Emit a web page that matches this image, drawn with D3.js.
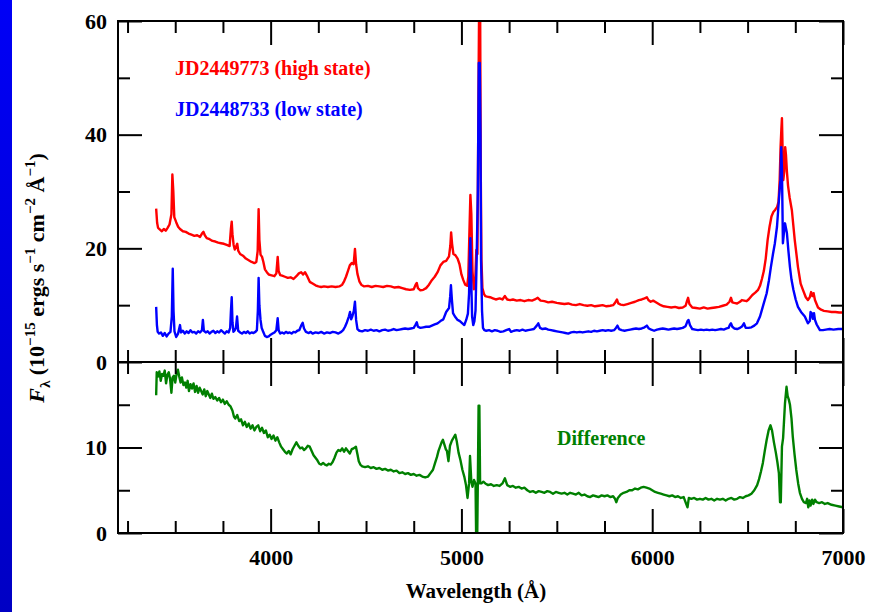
<!DOCTYPE html>
<html>
<head>
<meta charset="utf-8">
<script src="https://d3js.org/d3.v7.min.js"></script>
<style>
  body { margin: 0; background: #fff; }
  svg { display: block; }
</style>
</head>
<body>
<div id="chart"></div>
<script>
// Spectra: [wavelength (A), flux (1e-15 ergs/s/cm2/A)]
var highState = [
  [3400,27.0],[3405,24.5],[3410,23.6],[3420,23.3],[3430,23.0],[3440,23.4],[3450,23.1],[3460,23.6],
  [3470,24.2],[3480,26.0],[3485,33.0],[3490,30.0],[3495,25.5],[3505,24.6],[3515,23.8],[3525,23.4],
  [3540,23.0],[3555,22.9],[3570,22.6],[3585,22.4],[3600,22.2],[3615,22.3],[3630,22.0],[3640,22.6],
  [3648,22.9],[3655,22.3],[3665,21.8],[3680,21.6],[3695,21.3],[3710,21.2],[3725,21.0],[3740,20.9],
  [3755,20.8],[3770,20.6],[3785,20.4],[3792,23.5],[3796,24.7],[3800,22.5],[3806,20.6],[3812,19.8],
  [3820,20.4],[3825,20.8],[3830,19.6],[3840,19.0],[3855,18.7],[3870,18.2],[3885,17.9],[3900,17.6],
  [3915,17.4],[3925,17.6],[3932,19.5],[3937,26.9],[3941,21.5],[3947,18.9],[3955,18.5],[3962,17.6],
  [3970,16.3],[3980,15.8],[3990,15.4],[4000,15.3],[4010,15.2],[4020,15.1],[4030,15.6],[4037,18.5],
  [4042,16.0],[4050,15.3],[4060,15.2],[4075,15.0],[4090,14.8],[4105,14.9],[4120,14.6],[4135,15.1],
  [4148,15.6],[4160,15.8],[4170,15.4],[4180,15.8],[4190,15.2],[4205,14.1],[4220,13.8],[4235,13.5],
  [4250,13.3],[4265,13.2],[4280,13.3],[4300,13.2],[4320,13.3],[4340,13.2],[4360,13.3],[4375,13.6],
  [4385,14.2],[4395,15.0],[4405,16.0],[4415,17.0],[4425,17.4],[4435,17.2],[4442,19.9],[4448,17.2],
  [4455,15.5],[4465,14.2],[4475,13.6],[4490,13.3],[4510,13.4],[4530,13.2],[4550,13.4],[4570,13.3],
  [4590,13.2],[4610,13.4],[4630,13.3],[4650,13.1],[4670,13.2],[4690,13.0],[4710,12.8],[4730,12.7],
  [4750,12.8],[4760,13.6],[4766,13.9],[4772,13.0],[4785,12.6],[4800,12.7],[4815,13.0],[4830,13.6],
  [4845,14.4],[4860,15.0],[4875,15.8],[4890,17.0],[4905,17.6],[4920,17.8],[4935,18.6],[4942,20.5],
  [4946,22.8],[4951,20.8],[4958,19.0],[4968,18.8],[4980,18.2],[4990,17.2],[5000,15.4],[5010,14.4],
  [5020,13.6],[5030,13.4],[5036,15.0],[5042,23.0],[5047,29.4],[5052,26.0],[5058,16.0],[5065,12.8],
  [5072,14.0],[5078,19.7],[5084,19.0],[5089,45.0],[5093,64.0],[5098,64.0],[5101,35.0],[5105,18.0],
  [5110,13.0],[5118,12.0],[5125,11.6],[5135,11.5],[5150,11.4],[5165,11.2],[5180,11.0],[5200,11.2],
  [5215,11.0],[5228,11.6],[5240,11.0],[5255,10.9],[5270,11.0],[5290,10.8],[5310,10.9],[5330,10.7],
  [5350,10.9],[5370,10.8],[5385,11.0],[5400,11.3],[5415,10.8],[5435,10.7],[5455,10.5],[5475,10.6],
  [5500,10.4],[5520,10.3],[5540,10.2],[5560,10.3],[5580,10.1],[5600,10.0],[5620,10.2],[5640,10.0],
  [5660,9.9],[5680,10.0],[5700,9.8],[5720,9.9],[5740,10.0],[5760,9.8],[5780,9.9],[5795,10.0],
  [5805,10.4],[5815,11.0],[5822,10.3],[5835,10.1],[5850,10.0],[5870,10.2],[5890,10.4],[5910,10.6],
  [5930,10.9],[5945,11.0],[5960,11.2],[5972,11.4],[5980,10.9],[5992,10.6],[6005,10.8],[6015,10.6],
  [6030,10.3],[6045,10.0],[6060,9.8],[6080,9.7],[6100,9.6],[6120,9.7],[6140,9.5],[6160,9.6],
  [6175,9.9],[6183,10.8],[6188,11.3],[6195,10.2],[6210,9.6],[6230,9.5],[6250,9.4],[6270,9.6],
  [6290,9.4],[6310,9.5],[6330,9.6],[6350,9.7],[6370,9.9],[6390,10.1],[6405,10.6],[6413,11.3],
  [6420,10.5],[6430,10.4],[6445,10.3],[6460,10.6],[6470,10.9],[6482,10.8],[6495,10.7],[6505,11.0],
  [6515,11.4],[6525,11.8],[6540,12.2],[6555,12.7],[6565,13.4],[6575,14.6],[6585,16.0],[6595,18.2],
  [6605,21.5],[6615,23.8],[6625,25.6],[6635,26.4],[6645,26.8],[6655,27.3],[6662,28.2],[6668,32.0],
  [6673,38.0],[6677,41.0],[6680,42.9],[6683,38.0],[6687,32.0],[6692,33.5],[6697,37.8],[6701,36.5],
  [6706,33.5],[6712,31.0],[6720,29.0],[6732,26.7],[6747,21.5],[6764,16.7],[6778,13.8],[6790,12.7],
  [6805,11.4],[6816,10.9],[6826,11.4],[6833,12.3],[6840,11.6],[6846,12.1],[6853,10.9],[6869,9.6],
  [6885,9.2],[6900,9.0],[6920,8.9],[6940,8.8],[6960,8.8],[6980,8.7],[7000,8.7]
];

var lowState = [
  [3400,9.7],[3404,6.5],[3408,5.3],[3415,5.0],[3425,5.2],[3435,4.6],[3445,5.1],[3455,4.5],
  [3465,5.0],[3475,5.3],[3482,8.0],[3487,16.4],[3491,9.0],[3496,5.4],[3505,4.4],[3515,5.0],
  [3525,6.5],[3530,5.2],[3540,5.5],[3550,5.0],[3560,5.4],[3570,5.1],[3580,5.6],[3590,5.2],
  [3600,5.3],[3610,5.0],[3620,5.4],[3630,5.2],[3640,5.6],[3645,7.4],[3650,5.5],[3660,5.2],
  [3670,5.4],[3680,5.0],[3690,5.3],[3700,5.5],[3710,5.1],[3720,5.4],[3730,5.2],[3740,5.6],
  [3750,5.3],[3760,5.0],[3770,5.4],[3780,5.2],[3788,6.0],[3792,9.0],[3796,11.4],[3800,7.0],
  [3805,5.3],[3812,5.6],[3818,6.0],[3824,8.0],[3830,5.5],[3840,5.2],[3850,5.0],[3860,5.3],
  [3870,5.1],[3880,5.4],[3890,5.0],[3900,5.2],[3910,5.1],[3920,5.3],[3928,5.6],[3933,9.0],
  [3937,14.8],[3941,10.0],[3947,7.4],[3953,6.0],[3960,5.4],[3970,4.6],[3980,4.4],[3990,4.5],
  [4000,4.8],[4010,5.0],[4020,5.2],[4030,5.6],[4037,7.7],[4042,5.6],[4050,5.0],[4060,5.2],
  [4070,5.0],[4080,5.3],[4090,5.1],[4100,5.2],[4110,5.0],[4120,5.3],[4130,5.2],[4140,5.5],
  [4150,5.6],[4160,6.4],[4168,6.9],[4175,5.9],[4185,5.3],[4200,5.1],[4210,5.3],[4220,5.0],
  [4235,5.2],[4250,5.1],[4265,5.3],[4280,5.0],[4295,5.2],[4310,5.1],[4325,5.3],[4340,5.2],
  [4355,5.0],[4370,5.3],[4380,5.6],[4390,6.2],[4400,7.0],[4410,8.0],[4416,8.8],[4422,7.5],
  [4428,8.0],[4436,9.0],[4442,10.6],[4448,7.4],[4455,5.8],[4465,5.5],[4480,5.4],[4495,5.6],
  [4510,5.5],[4525,5.7],[4540,5.5],[4555,5.6],[4570,5.4],[4585,5.6],[4600,5.7],[4615,5.5],
  [4630,5.6],[4645,5.8],[4660,5.6],[4675,5.7],[4690,5.8],[4705,5.9],[4720,5.8],[4735,5.9],
  [4750,6.0],[4760,6.6],[4766,7.0],[4772,6.2],[4785,6.0],[4800,6.1],[4815,6.2],[4830,6.2],
  [4845,6.4],[4860,6.6],[4875,6.8],[4890,7.2],[4905,7.5],[4920,8.8],[4935,9.5],[4941,11.5],
  [4945,13.5],[4950,11.0],[4956,8.6],[4966,8.0],[4980,7.4],[4992,7.2],[5005,6.8],[5015,6.5],
  [5025,7.4],[5034,8.5],[5040,12.0],[5044,18.0],[5047,21.8],[5051,15.0],[5056,8.0],[5062,6.5],
  [5068,7.2],[5074,9.1],[5080,18.3],[5086,30.0],[5091,52.6],[5096,52.6],[5100,40.0],[5103,18.0],
  [5108,9.0],[5113,6.0],[5120,5.6],[5130,5.5],[5145,5.6],[5160,5.4],[5175,5.6],[5190,5.5],
  [5205,5.3],[5220,5.4],[5235,5.6],[5250,5.8],[5260,5.3],[5275,5.5],[5290,5.6],[5305,5.5],
  [5320,5.7],[5335,5.5],[5350,5.6],[5365,5.7],[5380,5.8],[5395,6.4],[5403,6.8],[5412,6.0],
  [5425,5.8],[5440,5.9],[5455,5.7],[5470,5.6],[5485,5.5],[5500,5.4],[5515,5.3],[5530,5.2],
  [5545,5.1],[5560,5.0],[5575,5.2],[5590,5.3],[5605,5.2],[5620,5.3],[5635,5.2],[5650,5.3],
  [5665,5.4],[5680,5.3],[5695,5.5],[5710,5.4],[5725,5.5],[5740,5.6],[5755,5.5],[5770,5.6],
  [5785,5.5],[5800,5.6],[5810,6.0],[5818,6.4],[5826,5.8],[5840,5.6],[5855,5.5],[5870,5.6],
  [5885,5.7],[5900,5.8],[5915,5.9],[5930,5.8],[5945,5.9],[5960,6.1],[5972,6.4],[5982,5.9],
  [5995,5.7],[6010,5.5],[6025,5.7],[6040,5.8],[6055,5.9],[6070,5.8],[6085,5.7],[6100,5.8],
  [6115,5.9],[6130,5.8],[6145,5.9],[6160,6.0],[6175,6.3],[6185,7.2],[6190,7.4],[6198,6.5],
  [6210,5.8],[6225,5.7],[6240,5.6],[6255,5.7],[6270,5.6],[6285,5.7],[6300,5.6],[6315,5.7],
  [6330,5.6],[6345,5.7],[6360,5.8],[6375,5.7],[6390,5.9],[6400,6.0],[6408,6.6],[6413,6.8],
  [6420,6.2],[6430,5.9],[6445,5.8],[6460,6.0],[6472,6.3],[6481,6.8],[6490,6.0],[6505,6.0],
  [6520,6.1],[6535,6.4],[6549,6.8],[6565,8.0],[6582,10.0],[6600,12.1],[6612,14.4],[6622,16.7],
  [6633,19.0],[6643,20.9],[6654,23.8],[6664,28.5],[6672,32.0],[6676,37.8],[6680,34.0],[6685,20.9],
  [6691,23.0],[6696,24.4],[6706,22.7],[6714,19.5],[6722,16.7],[6730,14.5],[6740,12.7],[6752,11.0],
  [6764,9.7],[6780,8.8],[6800,8.0],[6816,6.8],[6826,7.2],[6830,8.8],[6836,8.6],[6842,7.6],
  [6848,8.6],[6853,7.4],[6862,6.6],[6879,5.6],[6895,5.6],[6910,5.7],[6930,5.8],[6950,5.7],
  [6975,5.8],[7000,5.8]
];

var difference = [
  [3400,16.1],[3403,18.8],[3410,18.3],[3417,18.9],[3424,17.8],[3431,18.6],[3438,18.4],[3445,19.0],
  [3452,17.5],[3459,18.5],[3466,18.8],[3473,18.0],[3480,16.4],[3486,18.2],[3493,18.4],[3500,17.6],
  [3507,18.6],[3514,19.1],[3521,18.3],[3528,17.6],[3535,18.2],[3543,17.3],[3551,17.6],[3558,17.0],
  [3565,17.8],[3572,16.6],[3580,17.4],[3588,16.9],[3596,17.5],[3604,16.5],[3612,17.2],[3620,16.4],
  [3628,17.0],[3636,16.6],[3644,16.2],[3652,16.8],[3660,16.0],[3668,16.6],[3676,16.2],[3684,15.8],
  [3692,16.3],[3700,15.7],[3710,15.9],[3720,15.5],[3730,15.8],[3740,15.3],[3750,15.6],[3760,15.1],
  [3770,15.4],[3780,15.0],[3790,14.8],[3800,14.3],[3808,13.6],[3815,13.4],[3825,13.8],[3835,13.1],
  [3845,13.3],[3855,12.6],[3865,13.0],[3875,12.4],[3885,12.8],[3895,12.2],[3905,12.6],[3915,12.0],
  [3925,12.4],[3935,12.6],[3945,11.9],[3955,12.3],[3965,11.7],[3975,12.0],[3985,11.2],[3995,11.5],
  [4005,11.0],[4015,11.4],[4025,10.8],[4035,11.2],[4045,10.6],[4055,10.1],[4065,9.8],[4075,9.5],
  [4085,9.3],[4095,9.6],[4105,9.2],[4115,9.8],[4125,10.2],[4135,10.6],[4145,10.2],[4155,9.9],
  [4165,10.0],[4175,9.7],[4185,9.9],[4195,10.2],[4205,10.1],[4215,9.6],[4225,9.1],[4235,8.8],
  [4245,8.5],[4255,8.1],[4265,8.0],[4275,8.2],[4285,8.0],[4295,7.9],[4305,8.1],[4315,8.0],
  [4325,8.3],[4335,8.8],[4345,9.4],[4355,9.7],[4365,9.6],[4375,9.9],[4385,9.5],[4395,9.9],
  [4405,9.6],[4415,9.3],[4425,9.8],[4435,9.9],[4447,10.1],[4455,9.2],[4462,8.4],[4470,8.0],
  [4480,7.8],[4495,7.7],[4510,7.8],[4525,7.6],[4540,7.7],[4555,7.5],[4570,7.6],[4585,7.4],
  [4600,7.5],[4615,7.3],[4630,7.4],[4645,7.2],[4660,7.3],[4675,7.0],[4690,7.1],[4705,6.9],
  [4720,7.0],[4735,6.8],[4750,6.9],[4765,6.7],[4780,6.8],[4795,6.6],[4810,6.5],[4825,6.6],
  [4838,7.0],[4851,7.4],[4862,8.2],[4872,8.9],[4880,9.6],[4888,10.1],[4896,10.6],[4903,10.9],
  [4910,10.4],[4918,9.8],[4924,9.6],[4932,8.4],[4940,10.2],[4950,10.8],[4960,11.2],[4968,11.5],
  [4975,10.8],[4985,9.4],[4995,8.5],[5005,7.4],[5015,6.6],[5024,5.6],[5032,4.1],[5040,5.8],
  [5045,9.0],[5052,6.0],[5058,5.4],[5066,6.2],[5074,5.8],[5078,-2.0],[5082,-2.0],[5086,6.0],
  [5090,14.9],[5094,14.9],[5098,5.8],[5105,5.8],[5115,6.0],[5125,5.8],[5140,5.6],[5155,5.7],
  [5170,5.5],[5185,5.6],[5200,5.5],[5215,5.8],[5228,6.4],[5240,5.6],[5255,5.4],[5270,5.5],
  [5285,5.3],[5300,5.4],[5315,5.2],[5330,5.3],[5345,5.0],[5360,4.8],[5375,4.9],[5390,4.7],
  [5405,4.9],[5420,4.8],[5435,4.7],[5450,4.9],[5465,4.8],[5480,4.6],[5495,4.8],[5510,4.7],
  [5525,4.6],[5540,4.7],[5555,4.5],[5570,4.7],[5585,4.6],[5600,4.5],[5615,4.7],[5630,4.4],
  [5645,4.5],[5660,4.3],[5675,4.2],[5690,4.4],[5705,4.3],[5720,4.2],[5735,4.4],[5750,4.3],
  [5765,4.4],[5780,4.2],[5795,4.3],[5805,4.0],[5812,3.6],[5820,4.1],[5835,4.5],[5850,4.7],
  [5865,4.8],[5880,5.0],[5895,5.0],[5910,5.2],[5925,5.1],[5940,5.3],[5955,5.4],[5970,5.3],
  [5985,5.2],[6000,5.0],[6015,4.8],[6030,4.7],[6045,4.6],[6060,4.5],[6075,4.4],[6090,4.3],
  [6105,4.4],[6120,4.2],[6135,4.3],[6150,4.1],[6165,4.2],[6178,3.4],[6185,3.0],[6192,4.1],
  [6205,4.0],[6220,4.1],[6235,3.9],[6250,4.0],[6265,3.9],[6280,4.1],[6295,3.9],[6310,4.0],
  [6325,3.8],[6340,4.0],[6355,3.9],[6370,4.0],[6385,3.8],[6400,4.0],[6415,4.1],[6430,3.9],
  [6445,4.0],[6460,4.2],[6475,4.1],[6490,4.3],[6505,4.4],[6520,4.6],[6535,5.0],[6550,5.6],
  [6560,6.3],[6570,7.2],[6580,8.2],[6590,9.6],[6600,10.9],[6610,12.0],[6620,12.6],[6628,12.0],
  [6638,10.6],[6648,9.4],[6656,8.3],[6664,7.0],[6670,3.6],[6674,3.6],[6680,10.1],[6686,11.1],
  [6696,15.2],[6704,17.1],[6710,16.0],[6716,15.6],[6722,15.0],[6730,13.4],[6737,11.2],[6746,9.2],
  [6755,7.4],[6765,5.8],[6774,4.7],[6785,4.0],[6795,3.6],[6806,3.5],[6812,4.0],[6818,3.0],
  [6824,3.8],[6830,3.2],[6838,3.9],[6845,3.4],[6853,3.9],[6862,3.6],[6875,3.5],[6890,3.6],
  [6905,3.4],[6920,3.5],[6940,3.3],[6960,3.2],[6980,3.1],[7000,3.0]
];

// Tick values
var xMajorTicks = [4000, 5000, 6000, 7000];
var xMinorTicks = [3250, 3500, 3750, 4250, 4500, 4750, 5250, 5500, 5750, 6250, 6500, 6750];
var upperMajorTicks = [0, 20, 40, 60];
var upperMinorTicks = [10, 30, 50];
var lowerMajorTicks = [0, 10];
var lowerMinorTicks = [5, 15];

var svgWidth = 871;
var svgHeight = 612;

var frame = { left: 118, right: 843, top: 21, middle: 362, bottom: 533 };
var majorLen = 24;
var minorLen = 12;
var serif = "'Liberation Serif', 'Times New Roman', serif";

var svg = d3.select("#chart")
  .append("svg")
  .attr("width", svgWidth)
  .attr("height", svgHeight);

svg.append("rect")
  .attr("width", svgWidth)
  .attr("height", svgHeight)
  .attr("fill", "#fff");

// blue strip down the left edge
var defs = svg.append("defs");
var grad = defs.append("linearGradient")
  .attr("id", "strip")
  .attr("x1", 0).attr("y1", 0).attr("x2", 0).attr("y2", 1);
grad.append("stop").attr("offset", "0%").attr("stop-color", "#0000f6");
grad.append("stop").attr("offset", "100%").attr("stop-color", "#0000c4");

svg.append("rect")
  .attr("x", 0)
  .attr("y", 0)
  .attr("width", 12)
  .attr("height", svgHeight)
  .attr("fill", "url(#strip)");

// Scales
var xScale = d3.scaleLinear()
  .domain([3200, 7000])
  .range([frame.left, frame.right]);

var yUpper = d3.scaleLinear()
  .domain([0, 60])
  .range([frame.middle, frame.top]);

var yLower = d3.scaleLinear()
  .domain([0, 20])
  .range([frame.bottom, frame.middle]);

// clip paths for each panel
defs.append("clipPath").attr("id", "clipUpper")
  .append("rect")
  .attr("x", frame.left).attr("y", frame.top)
  .attr("width", frame.right - frame.left)
  .attr("height", frame.middle - frame.top);
defs.append("clipPath").attr("id", "clipLower")
  .append("rect")
  .attr("x", frame.left).attr("y", frame.middle)
  .attr("width", frame.right - frame.left)
  .attr("height", frame.bottom - frame.middle);

// Spectra
var upperLine = d3.line()
  .x(d => xScale(d[0]))
  .y(d => yUpper(d[1]));

var lowerLine = d3.line()
  .x(d => xScale(d[0]))
  .y(d => yLower(d[1]));

var upperGroup = svg.append("g").attr("clip-path", "url(#clipUpper)");
var lowerGroup = svg.append("g").attr("clip-path", "url(#clipLower)");

// red first, so the low state sits on top where the two lines cross
upperGroup.append("path")
  .datum(highState)
  .attr("d", upperLine)
  .attr("fill", "none")
  .attr("stroke", "#ff0000")
  .attr("stroke-width", 2.4)
  .attr("stroke-linejoin", "round");

upperGroup.append("path")
  .datum(lowState)
  .attr("d", upperLine)
  .attr("fill", "none")
  .attr("stroke", "#0000ff")
  .attr("stroke-width", 2.4)
  .attr("stroke-linejoin", "round");

lowerGroup.append("path")
  .datum(difference)
  .attr("d", lowerLine)
  .attr("fill", "none")
  .attr("stroke", "#008000")
  .attr("stroke-width", 2.4)
  .attr("stroke-linejoin", "round");

// Ticks: inward on every side of both panels
function tickAxis(axisFn, scale, values, size, transform) {
  var g = svg.append("g")
    .attr("transform", transform)
    .call(axisFn(scale).tickValues(values).tickSize(size).tickFormat(""));
  g.select(".domain").remove();
  g.selectAll(".tick line").attr("stroke", "#000").attr("stroke-width", 2);
}

var sides = [
  [d3.axisBottom, `translate(0,${frame.top})`],
  [d3.axisTop, `translate(0,${frame.middle})`],
  [d3.axisBottom, `translate(0,${frame.middle})`],
  [d3.axisTop, `translate(0,${frame.bottom})`]
];
sides.forEach(function(s) {
  tickAxis(s[0], xScale, xMajorTicks, majorLen, s[1]);
  tickAxis(s[0], xScale, xMinorTicks, minorLen, s[1]);
});

tickAxis(d3.axisRight, yUpper, upperMajorTicks, majorLen, `translate(${frame.left},0)`);
tickAxis(d3.axisRight, yUpper, upperMinorTicks, minorLen, `translate(${frame.left},0)`);
tickAxis(d3.axisLeft, yUpper, upperMajorTicks, majorLen, `translate(${frame.right},0)`);
tickAxis(d3.axisLeft, yUpper, upperMinorTicks, minorLen, `translate(${frame.right},0)`);
tickAxis(d3.axisRight, yLower, lowerMajorTicks, majorLen, `translate(${frame.left},0)`);
tickAxis(d3.axisRight, yLower, lowerMinorTicks, minorLen, `translate(${frame.left},0)`);
tickAxis(d3.axisLeft, yLower, lowerMajorTicks, majorLen, `translate(${frame.right},0)`);
tickAxis(d3.axisLeft, yLower, lowerMinorTicks, minorLen, `translate(${frame.right},0)`);

// Frame
svg.append("rect")
  .attr("x", frame.left)
  .attr("y", frame.top)
  .attr("width", frame.right - frame.left)
  .attr("height", frame.bottom - frame.top)
  .attr("fill", "none")
  .attr("stroke", "#000")
  .attr("stroke-width", 2);

svg.append("line")
  .attr("x1", frame.left).attr("x2", frame.right)
  .attr("y1", frame.middle).attr("y2", frame.middle)
  .attr("stroke", "#000")
  .attr("stroke-width", 2);

// Tick labels
function labelAxis(axis, transform) {
  var g = svg.append("g")
    .attr("transform", transform)
    .call(axis);
  g.select(".domain").remove();
  g.selectAll("text")
    .attr("font-family", serif)
    .attr("font-size", "22px")
    .attr("font-weight", "bold")
    .attr("fill", "#000");
}

labelAxis(d3.axisLeft(yUpper).tickValues(upperMajorTicks).tickSize(0).tickPadding(11),
  `translate(${frame.left},0)`);
labelAxis(d3.axisLeft(yLower).tickValues(lowerMajorTicks).tickSize(0).tickPadding(11),
  `translate(${frame.left},0)`);
labelAxis(d3.axisBottom(xScale).tickValues(xMajorTicks).tickSize(0).tickPadding(16).tickFormat(d3.format("d")),
  `translate(0,${frame.bottom})`);

// Axis titles
svg.append("text")
  .attr("x", 476)
  .attr("y", 598)
  .attr("text-anchor", "middle")
  .attr("font-family", serif)
  .attr("font-size", "21px")
  .attr("font-weight", "bold")
  .text("Wavelength (Å)");

var yTitle = svg.append("text")
  .attr("transform", "translate(44,278) rotate(-90)")
  .attr("text-anchor", "middle")
  .attr("font-family", serif)
  .attr("font-size", "22px")
  .attr("font-weight", "bold");

var titleParts = [
  { t: "F", italic: true },
  { t: "λ", sub: true },
  { t: " (10" },
  { t: "−15", sup: true },
  { t: " ergs s" },
  { t: "−1", sup: true },
  { t: " cm" },
  { t: "−2", sup: true },
  { t: " Å" },
  { t: "−1", sup: true },
  { t: ")" }
];
var shift = 0;
titleParts.forEach(function(p) {
  var target = p.sub ? 6 : p.sup ? -9 : 0;
  var span = yTitle.append("tspan")
    .attr("dy", target - shift)
    .text(p.t);
  if (p.italic) span.attr("font-style", "italic");
  if (p.sub || p.sup) span.attr("font-size", "15px");
  shift = target;
});

// Labels inside the panels
svg.append("text")
  .attr("x", 175)
  .attr("y", 75)
  .attr("font-family", serif)
  .attr("font-size", "20px")
  .attr("font-weight", "bold")
  .attr("fill", "#ff0000")
  .text("JD2449773 (high state)");

svg.append("text")
  .attr("x", 175)
  .attr("y", 116)
  .attr("font-family", serif)
  .attr("font-size", "20px")
  .attr("font-weight", "bold")
  .attr("fill", "#0000ff")
  .text("JD2448733 (low state)");

svg.append("text")
  .attr("x", 557)
  .attr("y", 445)
  .attr("font-family", serif)
  .attr("font-size", "20px")
  .attr("font-weight", "bold")
  .attr("fill", "#008000")
  .text("Difference");
</script>
</body>
</html>
